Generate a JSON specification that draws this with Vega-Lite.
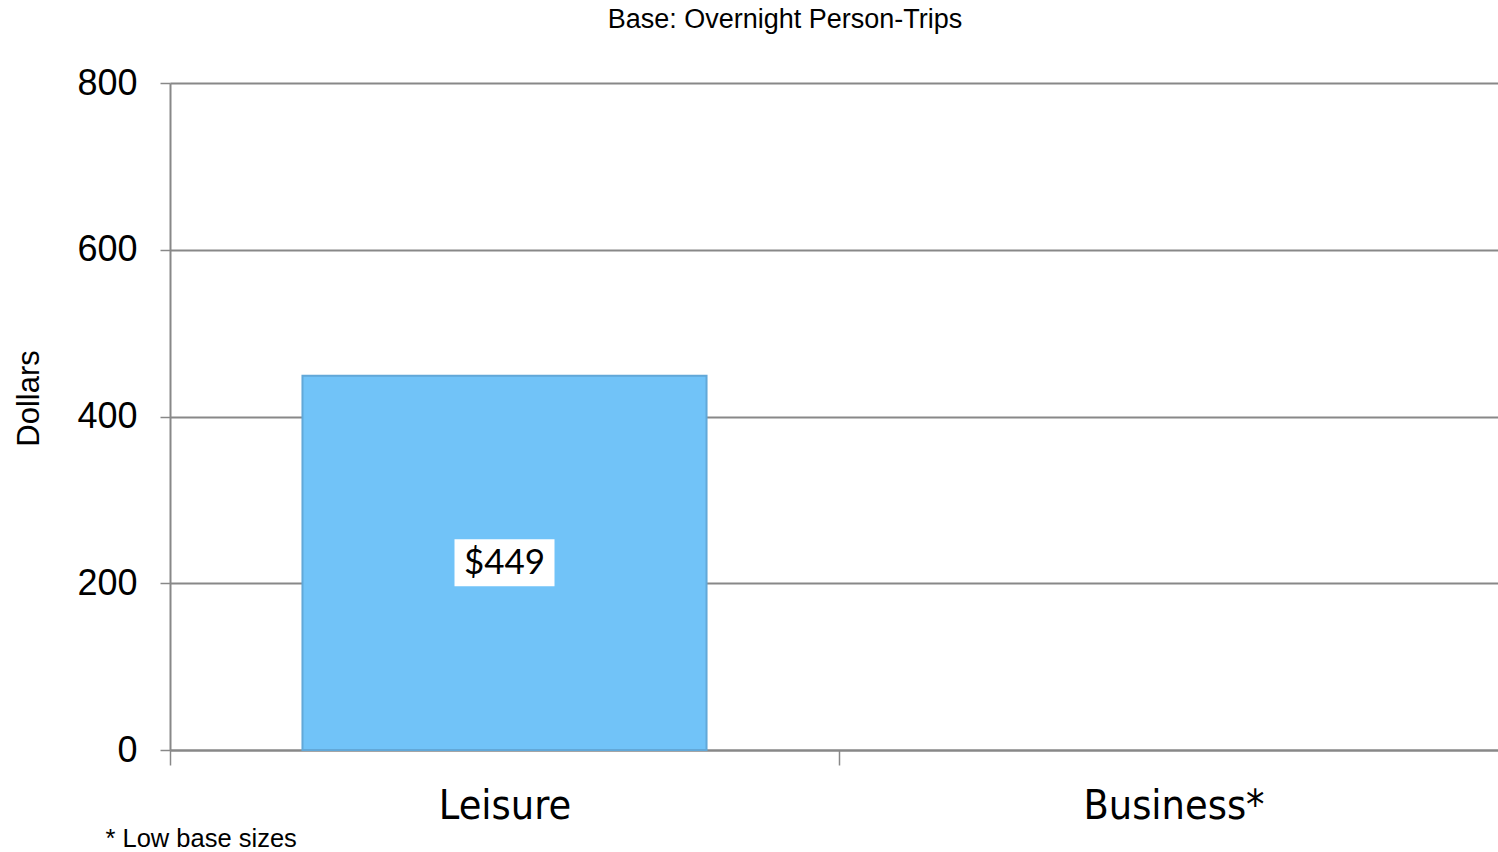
{
  "$schema": "https://vega.github.io/schema/vega-lite/v6.json",
  "autosize": "none",
  "width": 1338,
  "height": 667,
  "padding": {"left": 170, "top": 83, "right": 0, "bottom": 102},
  "background": "white",
  "config": {"view": {"stroke": null}, "font": "Liberation Sans"},
  "title": {
    "text": "Base: Overnight Person-Trips",
    "font": "Liberation Sans",
    "fontSize": 27,
    "fontWeight": "normal",
    "color": "black",
    "anchor": "middle",
    "frame": "group",
    "dx": -54,
    "offset": 31
  },
  "data": {"values": [
    {"type": "Leisure", "value": 449, "label": "$449"},
    {"type": "Business*", "value": null, "label": ""}
  ]},
  "encoding": {
    "x": {
      "field": "type", "type": "nominal", "sort": null,
      "scale": {"domain": ["Leisure", "Business*"], "paddingInner": 0, "paddingOuter": 0},
      "axis": {
        "title": "* Low base sizes",
        "titleFont": "Liberation Sans",
        "titleFontSize": 25.5,
        "titleFontWeight": "normal",
        "titleColor": "black",
        "titleAnchor": "start",
        "titleAlign": "left",
        "titleBaseline": "middle",
        "titleX": -65,
        "titleY": 88,
        "labelAngle": 0,
        "labelFont": "DejaVu Sans Condensed",
        "labelFontSize": 41,
        "labelColor": "black",
        "labelPadding": 21,
        "labelBaseline": "top",
        "labelLimit": 500,
        "tickBand": "extent",
        "tickSize": 15,
        "tickColor": "#888888",
        "tickWidth": 1.5,
        "domainColor": "#888888",
        "domainWidth": 2,
        "grid": false
      }
    }
  },
  "layer": [
    {
      "mark": {"type": "bar", "width": {"band": 0.604}, "color": "#71C3F8", "stroke": "#62A8D8", "strokeWidth": 2},
      "encoding": {
        "y": {
          "field": "value", "type": "quantitative",
          "scale": {"domain": [0, 800], "nice": false},
          "axis": {
            "values": [0, 200, 400, 600, 800],
            "title": "Dollars",
            "titleFont": "Liberation Sans",
            "titleFontSize": 31,
            "titleFontWeight": "normal",
            "titleColor": "black",
            "titlePadding": 31,
            "titleY": 315,
            "labelFont": "Liberation Sans",
            "labelFontSize": 36,
            "labelColor": "black",
            "labelPadding": 23,
            "tickSize": 10,
            "tickColor": "#888888",
            "tickWidth": 1.5,
            "domainColor": "#888888",
            "domainWidth": 2,
            "grid": true,
            "gridColor": "#888888",
            "gridWidth": 2
          }
        }
      }
    },
    {
      "transform": [{"filter": "datum.value != null"}, {"calculate": "datum.value / 2", "as": "mid"}],
      "mark": {"type": "point", "shape": "M-1,-0.47L1,-0.47L1,0.47L-1,0.47Z", "size": 10000, "filled": true, "color": "white", "opacity": 1, "strokeWidth": 0},
      "encoding": {"y": {"field": "mid", "type": "quantitative"}}
    },
    {
      "transform": [{"filter": "datum.value != null"}, {"calculate": "datum.value / 2", "as": "mid"}],
      "mark": {"type": "text", "font": "Lato", "fontSize": 35, "color": "black", "baseline": "middle", "align": "center"},
      "encoding": {"y": {"field": "mid", "type": "quantitative"}, "text": {"field": "label"}}
    }
  ]
}
